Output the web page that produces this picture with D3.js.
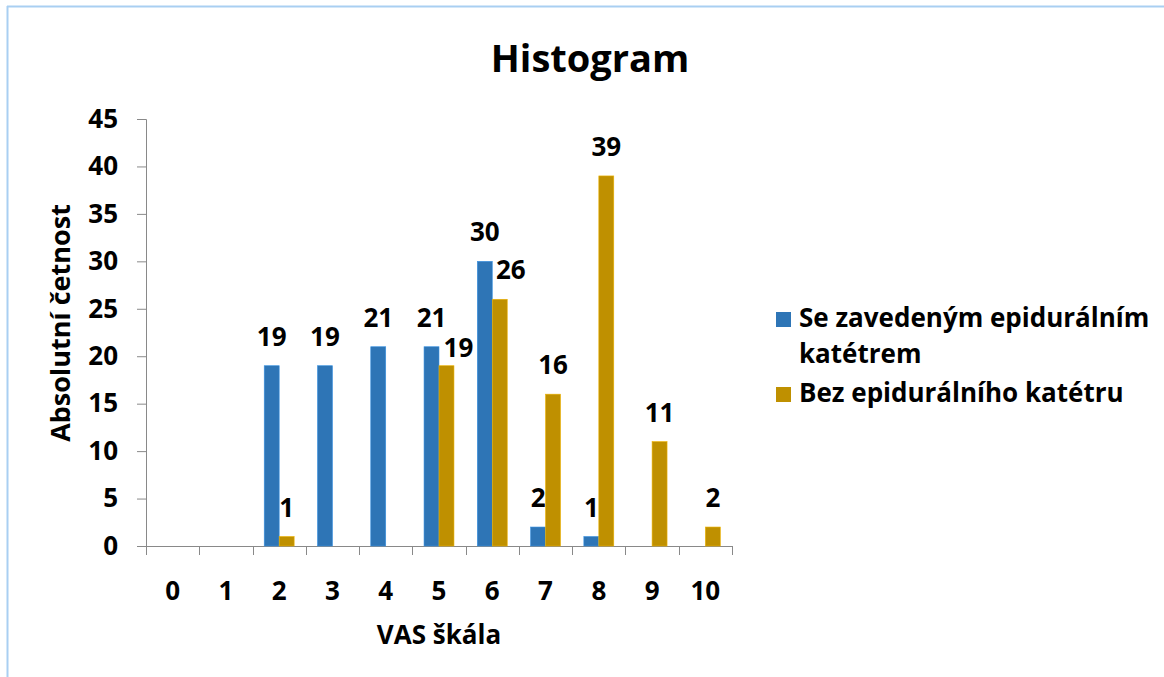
<!DOCTYPE html>
<html>
<head>
<meta charset="utf-8">
<script src="https://cdn.jsdelivr.net/npm/d3@7"></script>
<style>
  body { margin: 0; background: #fff; }
  text { font-family: "Open Sans", sans-serif; font-weight: bold; fill: #000; }
</style>
</head>
<body>
<script>
// VAS scale categories and counts per group
var categories = ["0", "1", "2", "3", "4", "5", "6", "7", "8", "9", "10"];
var seriesNames = ["Se zavedeným epidurálním katétrem", "Bez epidurálního katétru"];
var withCatheter = [0, 0, 19, 19, 21, 21, 30, 2, 1, 0, 0];
var withoutCatheter = [0, 0, 1, 0, 0, 19, 26, 16, 39, 11, 2];
var yTicks = [0, 5, 10, 15, 20, 25, 30, 35, 40, 45];

var colors = ["#2E75B6", "#BF9000"];
// labels that were moved by hand in the original so they don't collide
var labelNudge = { "1-5": [12, 11], "1-6": [11, 0] };

var width = 1164;
var height = 677;

var svg = d3.select("body")
            .append("svg")
            .attr("width", width)
            .attr("height", height);

// light blue frame on top and left
svg.append("line")
   .attr("x1", 7).attr("y1", 6.5).attr("x2", width).attr("y2", 6.5)
   .attr("stroke", "#a9cff2").attr("stroke-width", 2);
svg.append("line")
   .attr("x1", 7.5).attr("y1", 6).attr("x2", 7.5).attr("y2", height)
   .attr("stroke", "#a9cff2").attr("stroke-width", 2);

var x = d3.scaleBand()
          .domain(categories)
          .range([146, 732]);

// two bars side by side in the middle of each category
var x1 = d3.scaleBand()
           .domain([0, 1])
           .range([0, x.bandwidth()])
           .paddingOuter(0.78);

var y = d3.scaleLinear()
          .domain([0, 45])
          .range([546, 119]);

// title
svg.append("text")
   .attr("x", 590)
   .attr("y", 72)
   .attr("text-anchor", "middle")
   .style("font-size", "38px")
   .text("Histogram");

// y axis
var yAxis = svg.append("g")
               .attr("transform", "translate(146,0)")
               .call(d3.axisLeft(y).tickValues(yTicks).tickSize(9).tickPadding(19));
yAxis.select(".domain").attr("stroke", "#898989");
yAxis.selectAll(".tick line").attr("stroke", "#898989");
yAxis.selectAll(".tick text")
     .style("font-size", "26px")
     .attr("fill", "#000");

// x axis line and ticks between categories
svg.append("line")
   .attr("x1", 146).attr("x2", 732)
   .attr("y1", y(0) + 0.5).attr("y2", y(0) + 0.5)
   .attr("stroke", "#898989");

var tickPos = categories.map(function(c) { return x(c); }).concat([x.range()[1]]);
svg.selectAll(".xtick")
   .data(tickPos)
   .enter()
   .append("line")
   .attr("class", "xtick")
   .attr("x1", function(d) { return Math.round(d) + 0.5; })
   .attr("x2", function(d) { return Math.round(d) + 0.5; })
   .attr("y1", y(0))
   .attr("y2", y(0) + 9)
   .attr("stroke", "#898989");

svg.selectAll(".xlabel")
   .data(categories)
   .enter()
   .append("text")
   .attr("class", "xlabel")
   .attr("x", function(d) { return x(d) + x.bandwidth() / 2; })
   .attr("y", 600)
   .attr("text-anchor", "middle")
   .style("font-size", "26px")
   .text(function(d) { return d; });

// axis titles
svg.append("text")
   .attr("x", 439)
   .attr("y", 644)
   .attr("text-anchor", "middle")
   .style("font-size", "26px")
   .text("VAS škála");

svg.append("text")
   .attr("transform", "translate(70,323) rotate(-90)")
   .attr("text-anchor", "middle")
   .style("font-size", "27px")
   .text("Absolutní četnost");

// bars with value labels
var seriesData = [withCatheter, withoutCatheter];
seriesData.forEach(function(values, s) {
	for (var i = 0; i < values.length; i++) {
		if (values[i] <= 0) continue;
		var bx = x(categories[i]) + x1(s);
		svg.append("rect")
		   .attr("x", bx)
		   .attr("y", y(values[i]))
		   .attr("width", x1.bandwidth())
		   .attr("height", y(0) - y(values[i]))
		   .attr("fill", colors[s])
		   .attr("stroke", d3.color(colors[s]).brighter(0.6))
		   .attr("stroke-width", 0.6);

		var nudge = labelNudge[s + "-" + i] || [0, 0];
		svg.append("text")
		   .attr("x", bx + x1.bandwidth() / 2 + nudge[0])
		   .attr("y", y(values[i]) - 20 + nudge[1])
		   .attr("text-anchor", "middle")
		   .style("font-size", "26px")
		   .text(values[i]);
	}
});

// legend
var legendY = [327, 402];
var legendLines = [["Se zavedeným epidurálním", "katétrem"], ["Bez epidurálního katétru"]];
seriesNames.forEach(function(name, s) {
	svg.append("rect")
	   .attr("x", 776)
	   .attr("y", legendY[s] - 15)
	   .attr("width", 15)
	   .attr("height", 15)
	   .attr("fill", colors[s]);
	var t = svg.append("text")
	           .attr("x", 799)
	           .attr("y", legendY[s])
	           .style("font-size", "26px");
	legendLines[s].forEach(function(line, k) {
		t.append("tspan")
		 .attr("x", 799)
		 .attr("dy", k === 0 ? 0 : 36)
		 .text(line);
	});
});
</script>
</body>
</html>
